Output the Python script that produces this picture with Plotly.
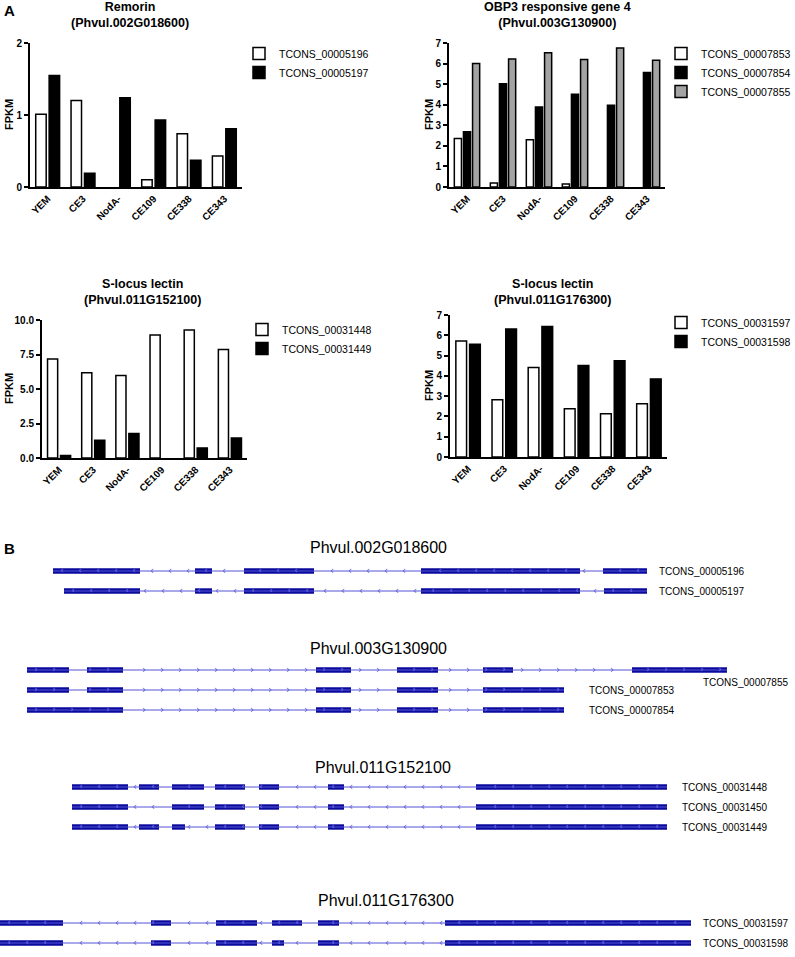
import numpy as np
import plotly.graph_objects as go

W, H = 795, 957
FONT = "Liberation Sans"

# ---------------- data: panel A ----------------
categories = ["YEM", "CE3", "NodA-", "CE109", "CE338", "CE343"]
y_title = "FPKM"

remorin_title = "Remorin<br>(Phvul.002G018600)"
remorin_names = ["TCONS_00005196", "TCONS_00005197"]
remorin_5196 = [1.01, 1.20, 0.0, 0.10, 0.74, 0.43]
remorin_5197 = [1.55, 0.19, 1.24, 0.93, 0.37, 0.81]

obp3_title = "OBP3 responsive gene 4<br>(Phvul.003G130900)"
obp3_names = ["TCONS_00007853", "TCONS_00007854", "TCONS_00007855"]
obp3_7853 = [2.36, 0.20, 2.30, 0.15, 0.0, 0.0]
obp3_7854 = [2.69, 5.02, 3.89, 4.51, 3.97, 5.57]
obp3_7855 = [6.00, 6.22, 6.53, 6.20, 6.76, 6.16]

slec1_title = "S-locus lectin<br>(Phvul.011G152100)"
slec1_names = ["TCONS_00031448", "TCONS_00031449"]
slec1_31448 = [7.17, 6.17, 5.98, 8.91, 9.27, 7.87]
slec1_31449 = [0.19, 1.28, 1.77, 0.0, 0.73, 1.45]

slec2_title = "S-locus lectin<br>(Phvul.011G176300)"
slec2_names = ["TCONS_00031597", "TCONS_00031598"]
slec2_31597 = [5.72, 2.82, 4.41, 2.38, 2.13, 2.62]
slec2_31598 = [5.56, 6.31, 6.43, 4.51, 4.75, 3.85]

# ---------------- data: panel B (exon start/end, relative coordinates) ----------------
gene1_name = "Phvul.002G018600"
gene1_transcripts = ["TCONS_00005196", "TCONS_00005197"]
gene1_exons = [
    [(53, 140), (195, 212), (244, 314), (421, 580), (603, 647)],
    [(64, 140), (195, 212), (244, 314), (421, 580), (604, 647)],
]
gene2_name = "Phvul.003G130900"
gene2_transcripts = ["TCONS_00007855", "TCONS_00007853", "TCONS_00007854"]
gene2_exons = [
    [(27, 69), (87, 123), (316, 351), (397, 438), (483, 513), (632, 727)],
    [(27, 69), (87, 123), (316, 351), (397, 438), (483, 564)],
    [(27, 123), (316, 351), (397, 438), (483, 564)],
]
gene3_name = "Phvul.011G152100"
gene3_transcripts = ["TCONS_00031448", "TCONS_00031450", "TCONS_00031449"]
gene3_exons = [
    [(72, 128), (139, 159), (172, 204), (215, 245), (259, 279), (328, 344), (476, 667)],
    [(72, 128), (172, 204), (215, 245), (259, 279), (328, 344), (476, 667)],
    [(72, 128), (139, 159), (172, 185), (215, 245), (259, 279), (328, 344), (476, 667)],
]
gene4_name = "Phvul.011G176300"
gene4_transcripts = ["TCONS_00031597", "TCONS_00031598"]
gene4_exons = [
    [(0, 63), (151, 171), (216, 257), (272, 302), (318, 339), (445, 691)],
    [(0, 63), (151, 171), (216, 257), (272, 284), (318, 339), (445, 691)],
]
gene_strands = ["-", "+", "-", "-"]

# ---------------- layout helpers ----------------
def fx(p):
    return p / W

def fy(p):
    return 1 - p / H

def nz(vals):
    # zero-valued bars are not drawn in the original
    return [v if v > 0 else None for v in vals]

fig = go.Figure()
annotations = []

WHITE = dict(color="white", line=dict(color="black", width=1.5))
BLACK = dict(color="black", line=dict(color="black", width=1.5))
GRAY = dict(color="#a3a3a3", line=dict(color="black", width=1.5))

charts = [
    # suffix, legend, series, ymax, dtick, tickformat, x-domain px, y-domain px, y-title x px
    ("", "legend", [(remorin_names[0], remorin_5196, WHITE), (remorin_names[1], remorin_5197, BLACK)],
     2, 1, "d", (30, 242), (43, 187), 9),
    ("2", "legend2", [(obp3_names[0], obp3_7853, WHITE), (obp3_names[1], obp3_7854, BLACK),
                      (obp3_names[2], obp3_7855, GRAY)],
     7, 1, "d", (449, 665), (43, 187), 429),
    ("3", "legend3", [(slec1_names[0], slec1_31448, WHITE), (slec1_names[1], slec1_31449, BLACK)],
     10, 2.5, ".1f", (42, 247), (320, 458), 9),
    ("4", "legend4", [(slec2_names[0], slec2_31597, WHITE), (slec2_names[1], slec2_31598, BLACK)],
     7, 1, "d", (450, 667), (315, 457), 429),
]

tickfont = dict(family=FONT, size=10, color="black", weight="bold")
for suf, leg, series, ymax, dtick, tfmt, xd, yd, tx in charts:
    for name, vals, mk in series:
        fig.add_trace(go.Bar(
            x=categories, y=nz(vals), name=name, marker=mk,
            xaxis="x" + suf, yaxis="y" + suf, legend=leg,
            hoverinfo="skip",
        ))
    fig.layout["xaxis" + suf] = dict(
        domain=[fx(xd[0]), fx(xd[1])], anchor="y" + suf, range=[-0.5, 5.5],
        showline=True, linecolor="black", linewidth=2, showgrid=False, zeroline=False,
        ticks="", tickangle=-45, tickfont=tickfont, fixedrange=True, automargin=False,
    )
    fig.layout["yaxis" + suf] = dict(
        domain=[fy(yd[1]), fy(yd[0])], anchor="x" + suf, range=[0, ymax], dtick=dtick,
        tickformat=tfmt, showline=True, linecolor="black", linewidth=2, showgrid=False,
        zeroline=False, ticks="outside", ticklen=4, tickwidth=1.5, tickcolor="black",
        tickfont=tickfont, automargin=False, fixedrange=True,
    )
    annotations.append(dict(text=y_title, x=fx(tx), y=fy((yd[0] + yd[1]) / 2), xref="paper",
                            yref="paper", showarrow=False, textangle=-90, xanchor="center",
                            yanchor="middle",
                            font=dict(family=FONT, size=11, color="black", weight="bold")))

legend_style = dict(font=dict(family=FONT, size=10.5, color="black"), bgcolor="rgba(0,0,0,0)",
                    xanchor="left", yanchor="top", tracegroupgap=0, borderwidth=0)
fig.layout.legend = dict(x=fx(239), y=fy(39), **legend_style)
fig.layout.legend2 = dict(x=fx(661), y=fy(39), **legend_style)
fig.layout.legend3 = dict(x=fx(242), y=fy(315), **legend_style)
fig.layout.legend4 = dict(x=fx(661), y=fy(308), **legend_style)

title_pos = [(remorin_title, 130, 15), (obp3_title, 557, 15), (slec1_title, 142, 292), (slec2_title, 552, 292)]
for txt, cx, cy in title_pos:
    annotations.append(dict(text=txt, x=fx(cx), y=fy(cy), xref="paper", yref="paper",
                            showarrow=False, xanchor="center", yanchor="middle",
                            font=dict(family=FONT, size=12.5, color="black", weight="bold")))
annotations.append(dict(text="A", x=fx(2), y=fy(11), xref="paper", yref="paper", showarrow=False,
                        xanchor="left", yanchor="middle",
                        font=dict(family=FONT, size=15, color="black", weight="bold")))
annotations.append(dict(text="B", x=fx(2), y=fy(548), xref="paper", yref="paper", showarrow=False,
                        xanchor="left", yanchor="middle",
                        font=dict(family=FONT, size=15, color="black", weight="bold")))

# ---------------- panel B: gene models ----------------
EXON = "#0a0a9c"
INTRON = "#5454d6"
genes = [
    (gene1_name, gene1_transcripts, gene1_exons),
    (gene2_name, gene2_transcripts, gene2_exons),
    (gene3_name, gene3_transcripts, gene3_exons),
    (gene4_name, gene4_transcripts, gene4_exons),
]
gene_layout = [
    dict(row0=571, title=(378, 547), gap=10),
    dict(row0=670, title=(378, 648), gap=23),
    dict(row0=787, title=(383, 767), gap=13),
    dict(row0=923, title=(386, 900), gap=10),
]
ROW = 20
CHEV = 18

for gi, ((gname, tnames, exons), gl, strand) in enumerate(zip(genes, gene_layout, gene_strands)):
    suf = str(5 + gi)
    n = len(tnames)
    top = gl["row0"] - ROW / 2
    bot = top + n * ROW
    ax_x, ax_y = "x" + suf, "y" + suf
    for tn, ex in zip(tnames, exons):
        start, end = ex[0][0], ex[-1][1]
        fig.add_trace(go.Scatter(x=[start, end], y=[tn, tn], mode="lines",
                                 line=dict(color=INTRON, width=1), showlegend=False,
                                 hoverinfo="skip", xaxis=ax_x, yaxis=ax_y))
    bx, bbase, by = [], [], []
    for tn, ex in zip(tnames, exons):
        for s, e in ex:
            bx.append(e - s)
            bbase.append(s)
            by.append(tn)
    fig.add_trace(go.Bar(x=bx, base=bbase, y=by, orientation="h", width=0.27,
                         marker=dict(color=EXON, line=dict(width=0)), showlegend=False,
                         hoverinfo="skip", xaxis=ax_x, yaxis=ax_y))
    glyph = "‹" if strand == "-" else "›"
    cx_in, cy_in, cx_ex, cy_ex = [], [], [], []
    for tn, ex in zip(tnames, exons):
        start, end = ex[0][0], ex[-1][1]
        for p in np.arange(start + 9, end - 3, CHEV):
            inside = any(s + 2 <= p <= e - 2 for s, e in ex)
            if inside:
                cx_ex.append(p); cy_ex.append(tn)
            elif not any(s - 3 <= p <= e + 3 for s, e in ex):
                cx_in.append(p); cy_in.append(tn)
    fig.add_trace(go.Scatter(x=cx_in, y=cy_in, mode="text", text=[glyph] * len(cx_in),
                             textfont=dict(family="DejaVu Sans", size=10, color=INTRON),
                             showlegend=False, hoverinfo="skip", xaxis=ax_x, yaxis=ax_y))
    fig.add_trace(go.Scatter(x=cx_ex, y=cy_ex, mode="text", text=[glyph] * len(cx_ex),
                             textfont=dict(family="DejaVu Sans", size=9, color="#7a7aee"),
                             showlegend=False, hoverinfo="skip", xaxis=ax_x, yaxis=ax_y))
    for tn, ex in zip(tnames, exons):
        end = ex[-1][1]
        if tn == "TCONS_00007855":
            annotations.append(dict(text=tn, x=end - 26, y=tn, xref=ax_x, yref=ax_y,
                                    yshift=-12, showarrow=False, xanchor="left",
                                    yanchor="middle",
                                    font=dict(family=FONT, size=10, color="black")))
        else:
            annotations.append(dict(text=tn, x=end + gl["gap"], y=tn, xref=ax_x, yref=ax_y,
                                    showarrow=False, xanchor="left", yanchor="middle",
                                    font=dict(family=FONT, size=10, color="black")))
    annotations.append(dict(text=gname, x=fx(gl["title"][0]), y=fy(gl["title"][1]),
                            xref="paper", yref="paper", showarrow=False, xanchor="center",
                            yanchor="middle", font=dict(family=FONT, size=16, color="black")))
    fig.layout["xaxis" + suf] = dict(domain=[0, 1], range=[0, W], anchor=ax_y, visible=False,
                                     fixedrange=True, automargin=False)
    fig.layout["yaxis" + suf] = dict(domain=[fy(bot), fy(top)], anchor=ax_x, type="category",
                                     categoryorder="array", categoryarray=tnames,
                                     range=[n - 0.5, -0.5], visible=False, fixedrange=True,
                                     automargin=False)

fig.update_layout(
    template="none",
    width=W, height=H, margin=dict(l=0, r=0, t=0, b=0, autoexpand=False),
    paper_bgcolor="white", plot_bgcolor="white",
    barmode="group", bargap=0.24, bargroupgap=0.22,
    annotations=annotations, font=dict(family=FONT, color="black"),
    showlegend=True,
)
fig.write_html("out.html", config={"displayModeBar": False},
               post_script="document.body.style.margin='0px';")
